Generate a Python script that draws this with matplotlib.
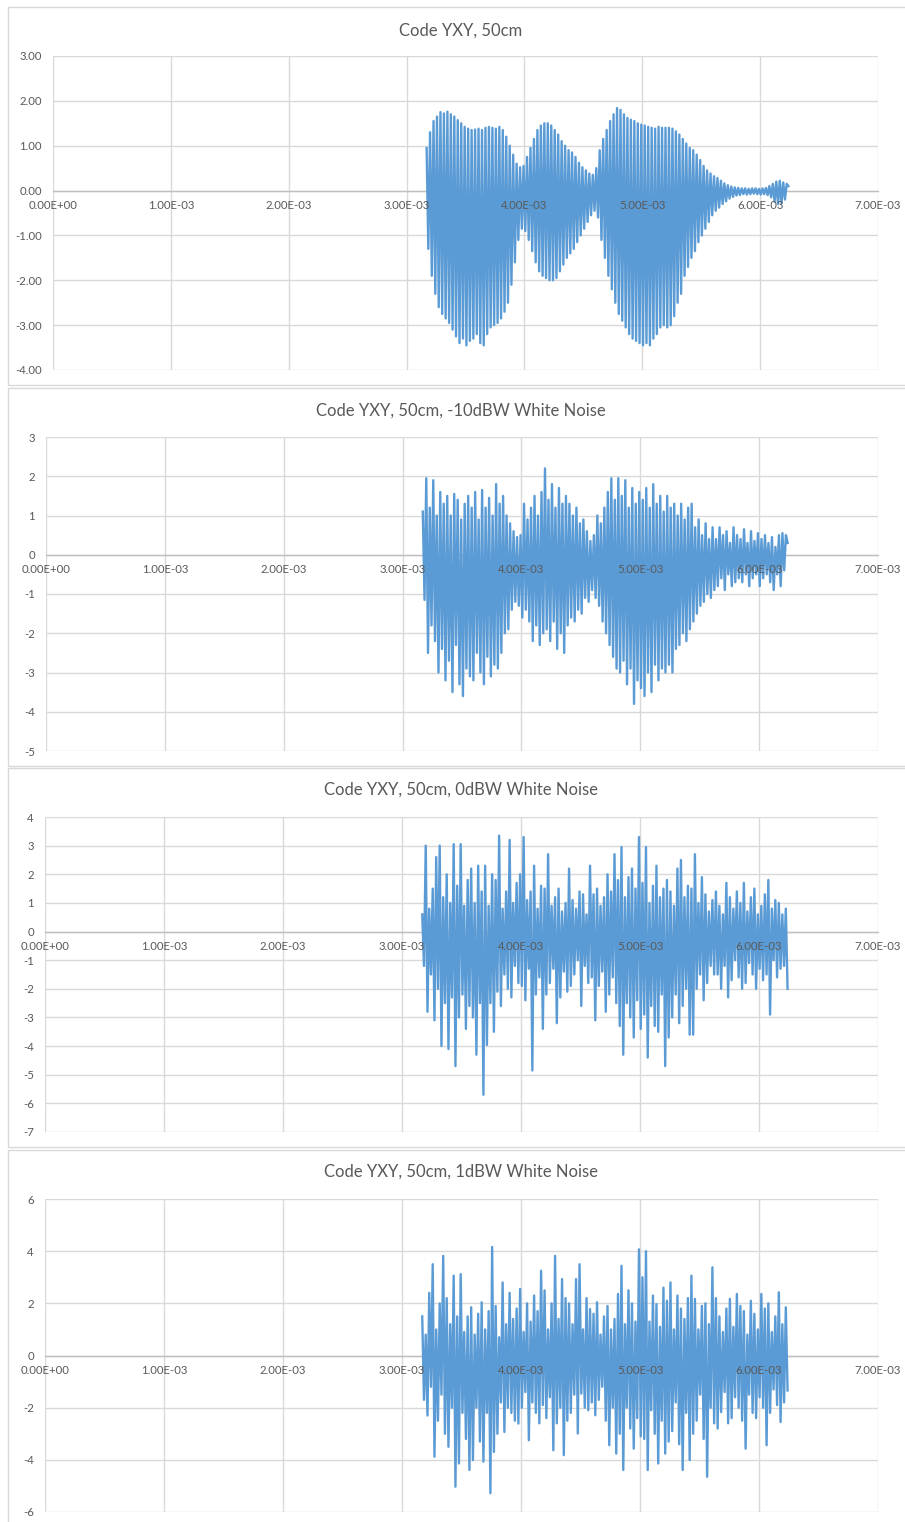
import numpy as np
import matplotlib
matplotlib.use("Agg")
import matplotlib.pyplot as plt
from matplotlib.patches import Rectangle
from matplotlib.ticker import FuncFormatter

plt.rcParams['font.family'] = ['Lato', 'DejaVu Sans']

# Dados (picos alternados alto/baixo)
t_start = 3.17e-3
t_end = 6.24e-3

titles = ["Code YXY, 50cm",
          "Code YXY, 50cm, -10dBW White Noise",
          "Code YXY, 50cm, 0dBW White Noise",
          "Code YXY, 50cm, 1dBW White Noise"]

sig_50cm = [
    0.95, -1.3, 1.3, -1.9, 1.55, -2.3, 1.65, -2.6, 1.75, -2.75, 1.72, -2.85, 1.76, -2.95,
    1.7, -3.1, 1.65, -3.25, 1.57, -3.4, 1.5, -3.3, 1.42, -3.45, 1.38, -3.35, 1.35, -3.3,
    1.36, -3.2, 1.38, -3.4, 1.35, -3.45, 1.4, -3.2, 1.42, -3.05, 1.4, -3.0, 1.38, -2.95,
    1.42, -2.85, 1.35, -2.7, 1.2, -2.5, 1.0, -2.1, 0.8, -1.6, 0.6, -1.1, 0.52, -0.85,
    0.55, -0.9, 0.75, -1.1, 0.95, -1.35, 1.15, -1.6, 1.35, -1.8, 1.45, -1.9, 1.5, -1.95,
    1.5, -2.0, 1.45, -2.0, 1.35, -1.95, 1.25, -1.8, 1.1, -1.65, 1.0, -1.5, 0.9, -1.4,
    0.85, -1.3, 0.75, -1.15, 0.62, -1.0, 0.52, -0.85, 0.45, -0.7, 0.38, -0.55, 0.35, -0.45,
    0.5, -0.6, 0.9, -1.1, 1.15, -1.5, 1.35, -1.9, 1.55, -2.2, 1.7, -2.5, 1.84, -2.75,
    1.8, -2.9, 1.7, -3.05, 1.62, -3.2, 1.58, -3.3, 1.55, -3.35, 1.5, -3.4, 1.47, -3.45,
    1.45, -3.4, 1.42, -3.45, 1.4, -3.3, 1.38, -3.2, 1.42, -3.05, 1.4, -3.0, 1.4, -3.05,
    1.4, -3.0, 1.38, -2.8, 1.32, -2.5, 1.25, -2.3, 1.15, -1.9, 1.05, -1.7, 0.95, -1.5,
    0.9, -1.35, 0.8, -1.15, 0.68, -1.0, 0.55, -0.85, 0.45, -0.7, 0.38, -0.55, 0.32, -0.45,
    0.28, -0.38, 0.22, -0.3, 0.16, -0.24, 0.12, -0.18, 0.09, -0.14, 0.07, -0.11, 0.06, -0.1,
    0.05, -0.08, 0.05, -0.09, 0.04, -0.08, 0.05, -0.07, 0.05, -0.08, 0.04, -0.09, 0.05, -0.08,
    0.06, -0.1, 0.1, -0.15, 0.15, -0.25, 0.2, -0.3, 0.22, -0.28, 0.18, -0.2, 0.15, 0.1,
]

sig_m10dbw = [
    1.1, -1.15, 1.95, -2.5, 1.2, -1.8, 1.9, -2.2, 1.0, -3.0, 1.6, -2.4, 1.3, -3.2,
    1.5, -2.7, 1.0, -3.5, 1.55, -2.3, 1.4, -3.3, 0.9, -3.6, 1.3, -2.9, 1.5, -3.1,
    1.2, -3.2, 1.6, -2.5, 0.9, -3.0, 1.65, -3.3, 1.2, -2.6, 1.45, -3.1, 1.0, -2.8,
    1.8, -2.9, 1.3, -2.5, 1.5, -2.0, 1.0, -1.9, 0.8, -1.4, 0.6, -1.2, 0.45, -1.3,
    0.5, -1.6, 1.3, -1.4, 0.9, -1.7, 1.2, -2.2, 1.5, -1.8, 1.0, -2.3, 1.6, -2.0,
    2.2, -1.9, 1.4, -2.2, 1.8, -1.7, 1.2, -2.4, 1.7, -2.0, 1.3, -2.5, 1.5, -1.8,
    1.3, -1.6, 1.0, -1.7, 1.2, -1.4, 0.8, -1.5, 0.9, -1.1, 0.6, -1.2, 0.35, -0.9,
    0.5, -1.1, 1.0, -1.3, 0.8, -1.7, 1.2, -2.0, 1.6, -2.3, 1.95, -2.6, 1.4, -2.9,
    1.95, -3.0, 1.5, -2.7, 1.9, -3.3, 1.2, -2.9, 1.7, -3.8, 1.3, -3.2, 1.6, -3.4,
    1.4, -3.6, 1.7, -3.0, 1.2, -3.5, 1.8, -2.8, 1.3, -3.2, 1.5, -2.9, 1.1, -3.0,
    1.5, -2.8, 1.2, -3.0, 1.3, -2.4, 1.0, -2.3, 1.3, -2.0, 0.9, -2.2, 1.2, -1.9,
    1.3, -1.7, 0.7, -1.5, 0.9, -1.3, 0.5, -1.2, 0.8, -1.0, 0.4, -1.1, 0.7, -0.9,
    0.4, -0.8, 0.7, -0.6, 0.5, -0.9, 0.6, -0.5, 0.3, -0.8, 0.7, -0.7, 0.5, -0.6,
    0.4, -0.7, 0.65, -0.5, 0.3, -0.8, 0.6, -0.6, 0.35, -0.5, 0.55, -0.8, 0.4, -0.6,
    0.5, -0.5, 0.3, -0.7, 0.45, -0.9, 0.2, -0.5, 0.5, -0.8, 0.55, -0.4, 0.5, 0.3,
]

sig_0dbw = [
    0.6, -1.2, 3.0, -2.8, 0.8, -1.5, 1.5, -3.1, 2.6, -2.0, 3.0, -4.0, 1.2, -2.5,
    2.0, -4.1, 1.0, -2.3, 3.05, -4.7, 1.6, -3.0, 3.05, -2.2, 0.9, -3.4, 1.8, -2.6,
    2.2, -3.0, 1.0, -4.3, 2.3, -2.5, 1.4, -5.7, 2.3, -3.96, 0.9, -2.5, 2.0, -3.5,
    1.8, -2.1, 3.35, -2.6, 0.8, -1.5, 1.4, -2.0, 3.2, -2.3, 1.0, -1.2, 1.7, -1.8,
    2.0, -1.9, 3.3, -2.4, 1.1, -1.3, 1.4, -4.85, 2.3, -2.2, 0.8, -1.6, 1.6, -3.4,
    1.5, -2.2, 2.7, -1.8, 0.9, -1.3, 1.2, -3.2, 1.5, -2.3, 0.7, -1.4, 1.0, -2.1,
    2.2, -1.9, 1.1, -1.5, 0.8, -1.0, 1.4, -2.6, 1.3, -1.2, 0.6, -1.8, 2.3, -1.6,
    1.3, -3.1, 1.5, -1.9, 0.9, -1.4, 1.2, -2.8, 2.0, -2.2, 1.4, -1.6, 2.7, -2.5,
    1.8, -3.3, 2.95, -4.3, 1.2, -2.5, 1.9, -3.0, 2.2, -3.7, 1.5, -2.4, 3.3, -3.4,
    1.7, -2.9, 2.95, -4.4, 1.0, -2.6, 1.6, -3.3, 2.3, -3.5, 1.2, -2.2, 1.5, -4.7,
    1.8, -3.7, 1.4, -3.0, 0.9, -2.2, 2.2, -3.2, 2.5, -2.6, 1.2, -2.0, 1.6, -3.6,
    1.5, -3.6, 2.7, -2.0, 1.0, -1.5, 1.9, -2.4, 1.3, -1.8, 0.7, -1.2, 1.1, -1.5,
    1.4, -1.5, 0.9, -2.0, 0.6, -1.2, 1.7, -2.3, 1.2, -1.7, 0.8, -1.0, 1.4, -1.6,
    1.0, -2.0, 1.7, -1.8, 0.7, -1.1, 1.2, -1.5, 1.5, -2.0, 0.6, -1.3, 0.9, -1.7,
    1.3, -1.5, 1.8, -2.9, 0.8, -1.0, 1.1, -1.6, 1.0, -1.3, 0.6, -1.2, 0.8, -2.0,
]

sig_1dbw = [
    1.5, -1.7, 0.8, -2.3, 2.4, -1.2, 3.5, -3.88, 1.0, -2.5, 2.0, -1.5, 3.82, -3.0,
    2.2, -3.5, 1.2, -2.0, 3.06, -5.03, 1.5, -4.14, 3.12, -2.2, 0.9, -3.2, 1.5, -4.39,
    1.85, -4.01, 0.8, -2.0, 1.6, -3.3, 2.04, -4.07, 1.0, -2.2, 1.7, -5.28, 4.16, -3.7,
    1.9, -3.0, 0.7, -1.8, 2.8, -2.93, 1.2, -2.0, 2.4, -2.2, 1.4, -2.5, 1.8, -2.61,
    2.55, -2.0, 0.9, -1.4, 2.0, -3.25, 1.3, -1.8, 2.3, -2.2, 1.7, -2.6, 3.25, -1.9,
    2.5, -2.4, 1.0, -1.6, 2.0, -3.63, 3.82, -2.6, 1.4, -2.0, 2.93, -3.82, 2.2, -2.5,
    2.0, -2.2, 1.2, -1.5, 2.93, -2.99, 3.5, -1.46, 1.0, -2.0, 2.2, -2.1, 1.78, -1.8,
    1.6, -2.29, 2.04, -1.7, 0.8, -1.2, 1.5, -2.5, 1.9, -3.44, 1.0, -2.0, 1.4, -3.76,
    2.36, -3.0, 3.44, -4.39, 1.2, -2.0, 2.5, -2.8, 2.0, -3.57, 1.3, -2.4, 4.07, -3.1,
    3.0, -3.2, 4.0, -4.39, 1.3, -2.1, 2.3, -3.0, 1.97, -4.14, 1.1, -2.5, 2.6, -3.76,
    2.1, -3.3, 2.8, -2.9, 1.0, -1.8, 2.3, -3.4, 1.8, -4.39, 1.4, -2.2, 2.2, -4.01,
    3.06, -3.0, 2.17, -2.5, 1.0, -1.5, 1.9, -3.2, 2.0, -4.65, 1.2, -2.0, 3.38, -2.6,
    2.2, -2.8, 1.5, -2.17, 0.9, -1.4, 1.8, -2.6, 2.17, -2.4, 1.1, -1.6, 2.36, -2.0,
    1.9, -2.5, 1.7, -3.57, 0.8, -1.5, 2.1, -2.2, 1.6, -2.4, 1.0, -1.6, 2.36, -2.0,
    1.8, -3.44, 2.0, -2.2, 0.9, -1.3, 1.5, -1.9, 2.42, -2.55, 1.2, -1.8, 1.85, -1.34,
]

signals = [sig_50cm, sig_m10dbw, sig_0dbw, sig_1dbw]
y_limits = [(-4, 3), (-5, 3), (-7, 4), (-6, 6)]
y_steps = [1, 1, 1, 2]
y_formats = ["{:.2f}", "{:.0f}", "{:.0f}", "{:.0f}"]
x_ticks = [0, 1e-3, 2e-3, 3e-3, 4e-3, 5e-3, 6e-3, 7e-3]

# posicoes em pixels: (esquerda, topo, base) da area do grafico, (topo, base) do painel
W, H = 905, 1522
plot_px = [(53, 56, 370), (46, 437, 751), (45, 817, 1132), (45, 1199, 1512)]
panel_px = [(7, 385), (388, 766), (768, 1147), (1150, 1530)]
title_y = [31, 411, 790, 1172]

grid_col = "#D9D9D9"
text_col = "#595959"
line_col = "#5B9BD5"

fig = plt.figure(figsize=(W / 100, H / 100), dpi=100)

for i in range(4):
    top_p, bot_p = panel_px[i]
    fig.patches.append(Rectangle((8 / W, 1 - bot_p / H), (W + 5 - 8) / W, (bot_p - top_p) / H,
                                 transform=fig.transFigure, fill=False,
                                 edgecolor=grid_col, linewidth=1.0))

    left, top, bot = plot_px[i]
    ax = fig.add_axes([left / W, 1 - bot / H, (878 - left) / W, (bot - top) / H])

    vals = signals[i]
    t = np.linspace(t_start, t_end, len(vals))
    ax.plot(t, vals, color=line_col, linewidth=1.7, zorder=3)

    lo, hi = y_limits[i]
    ax.set_xlim(0, 7e-3)
    ax.set_ylim(lo, hi)
    ax.set_xticks(x_ticks)
    ax.set_yticks(np.arange(lo, hi + 0.01, y_steps[i]))
    fmt = y_formats[i]
    ax.yaxis.set_major_formatter(FuncFormatter(lambda v, p, f=fmt: f.format(v)))
    ax.tick_params(axis='x', labelbottom=False)

    ax.grid(True, color=grid_col, linewidth=1.0, zorder=0)
    ax.set_axisbelow(True)
    for s in ['top', 'right', 'left']:
        ax.spines[s].set_visible(False)
    ax.spines['bottom'].set_position(('data', 0))
    ax.spines['bottom'].set_color("#BFBFBF")
    ax.spines['bottom'].set_linewidth(1.0)
    ax.spines['bottom'].set_zorder(1)
    ax.tick_params(axis='both', length=0, labelsize=8.2, labelcolor=text_col)
    ax.tick_params(axis='y', pad=8)

    # rotulos do eixo x junto da linha do zero, por cima da serie
    for xt in x_ticks:
        ax.annotate("%.2E" % xt, xy=(xt, 0), xytext=(0, -7), textcoords='offset points',
                    ha='center', va='top', fontsize=8.2, color=text_col,
                    annotation_clip=False, zorder=5)

    fig.text(461 / W, 1 - title_y[i] / H, titles[i], ha='center', va='center',
             fontsize=12, color=text_col)

fig.savefig("out.png", dpi=100)
